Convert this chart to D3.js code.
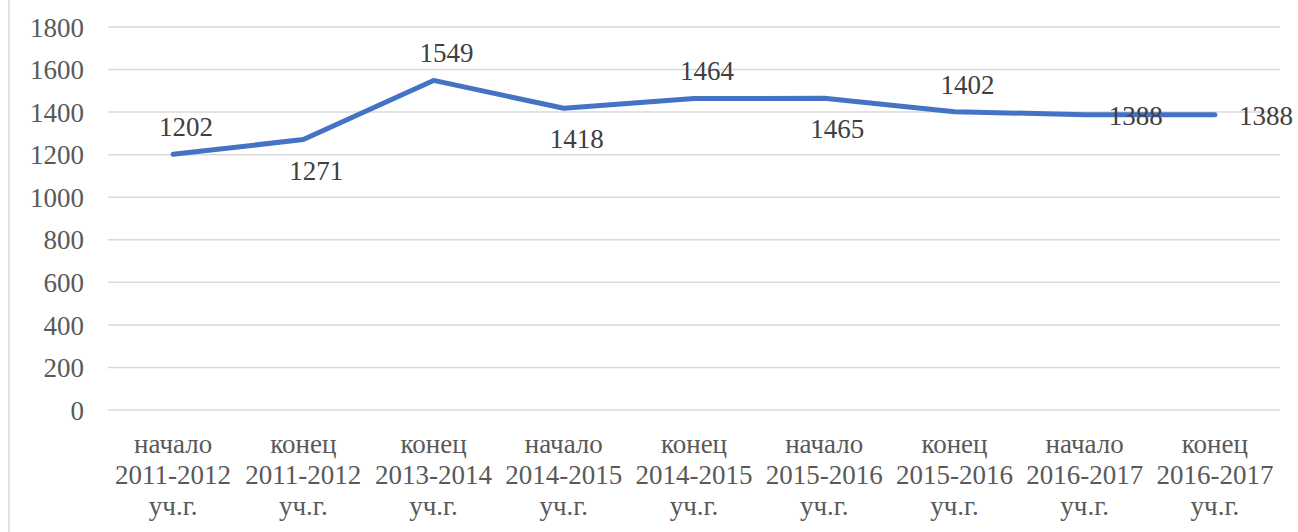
<!DOCTYPE html>
<html lang="ru">
<head>
    <meta charset="UTF-8">
    <title>Line chart</title>
    <script src="https://cdn.jsdelivr.net/npm/d3@7/dist/d3.min.js"></script>
    <style>
        body { margin: 0; background: #fff; }
        svg text { font-family: "Times New Roman", "Liberation Serif", Tinos, "DejaVu Serif", serif; }
    </style>
</head>
<body>
<svg id="main" width="1298" height="532"></svg>
<script>
    // data
    const categories = [
        ['начало', '2011-2012', 'уч.г.'],
        ['конец', '2011-2012', 'уч.г.'],
        ['конец', '2013-2014', 'уч.г.'],
        ['начало', '2014-2015', 'уч.г.'],
        ['конец', '2014-2015', 'уч.г.'],
        ['начало', '2015-2016', 'уч.г.'],
        ['конец', '2015-2016', 'уч.г.'],
        ['начало', '2016-2017', 'уч.г.'],
        ['конец', '2016-2017', 'уч.г.']
    ];
    const values = [1202, 1271, 1549, 1418, 1464, 1465, 1402, 1388, 1388];
    const yTicks = [0, 200, 400, 600, 800, 1000, 1200, 1400, 1600, 1800];
    // where each data label sits relative to its point
    const labelPlace = ['above', 'below', 'above', 'below', 'above', 'below', 'above', 'right', 'right'];

    const serif = '"Times New Roman", "Liberation Serif", Tinos, "DejaVu Serif", serif';
    const svg = d3.select('svg#main').attr('font-family', serif);
    const plotLeft = 108, plotRight = 1280, plotTop = 27, plotBottom = 410;

    const x = d3.scalePoint()
        .domain(d3.range(categories.length))
        .range([plotLeft, plotRight])
        .padding(0.5);
    const y = d3.scaleLinear()
        .domain([0, 1800])
        .range([plotBottom, plotTop]);

    // chart border (only left edge visible)
    svg.append('line')
        .attr('x1', 9).attr('x2', 9)
        .attr('y1', 0).attr('y2', 532)
        .attr('stroke', '#d9d9d9').attr('stroke-width', 1.5);

    // gridlines
    svg.append('g')
        .selectAll('line')
        .data(yTicks)
        .enter().append('line')
        .attr('x1', plotLeft).attr('x2', plotRight)
        .attr('y1', d => y(d)).attr('y2', d => y(d))
        .attr('stroke', '#d9d9d9')
        .attr('stroke-width', 1.5);

    // y axis labels
    const yAxis = svg.append('g')
        .attr('transform', 'translate(84,0)')
        .call(d3.axisLeft(y).tickValues(yTicks).tickFormat(d3.format('d')).tickSize(0).tickPadding(0));
    yAxis.attr('font-family', serif);
    yAxis.select('.domain').remove();
    yAxis.selectAll('text')
        .attr('fill', '#595959')
        .style('font-size', '27px')
        .style('font-family', serif)
        .attr('dy', '0.34em');

    // x axis labels (three lines each)
    const xl = svg.append('g')
        .selectAll('text')
        .data(categories)
        .enter().append('text')
        .attr('text-anchor', 'middle')
        .attr('fill', '#595959')
        .style('font-size', '27px')
        .style('font-family', serif)
        .attr('transform', (d, i) => 'translate(' + x(i) + ',453)');
    xl.selectAll('tspan')
        .data(d => d)
        .enter().append('tspan')
        .attr('x', 0)
        .attr('y', (d, j) => j * 31)
        .text(d => d);

    // the line
    const line = d3.line()
        .x((d, i) => x(i))
        .y(d => y(d));
    svg.append('path')
        .datum(values)
        .attr('d', line)
        .attr('fill', 'none')
        .attr('stroke', '#4472c4')
        .attr('stroke-width', 5)
        .attr('stroke-linejoin', 'round')
        .attr('stroke-linecap', 'round');

    // data labels
    svg.append('g')
        .selectAll('text')
        .data(values)
        .enter().append('text')
        .attr('fill', '#404040')
        .style('font-size', '27px')
        .style('font-family', serif)
        .attr('text-anchor', (d, i) => labelPlace[i] === 'right' ? 'start' : 'middle')
        .attr('x', (d, i) => labelPlace[i] === 'right' ? x(i) + 24 : x(i) + 13)
        .attr('y', (d, i) => {
            if (labelPlace[i] === 'above') return y(d) - 18;
            if (labelPlace[i] === 'below') return y(d) + 40;
            return y(d) + 10;
        })
        .text(d => d);
</script>
</body>
</html>
